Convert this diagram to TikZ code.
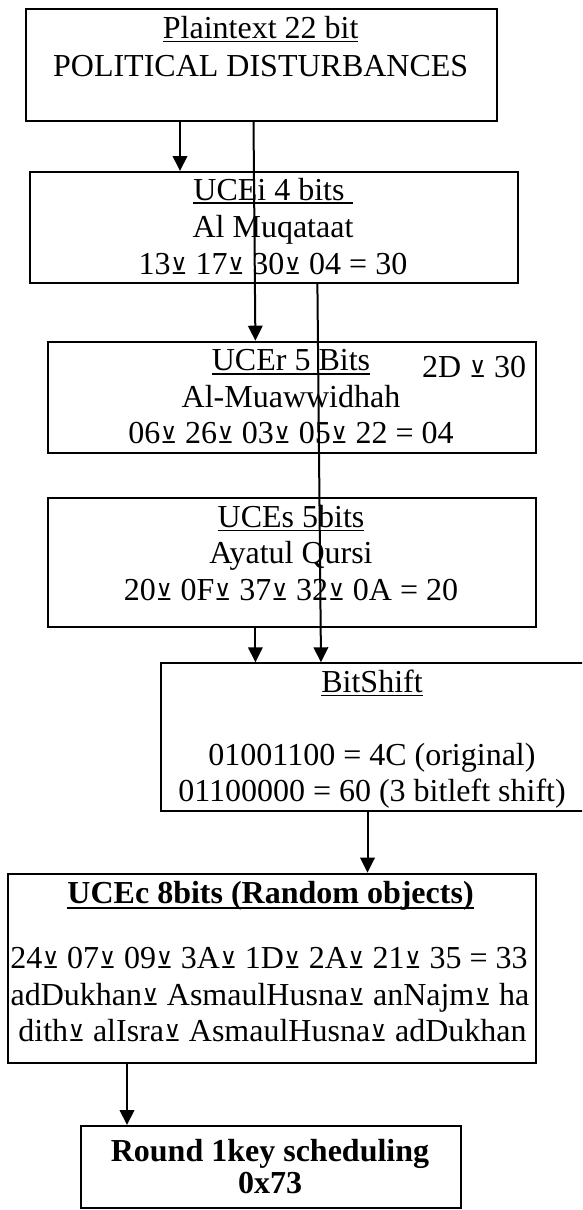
\documentclass[tikz,border=0pt]{standalone}
\usepackage{fontspec}
\setmainfont{Liberation Serif}
\newfontfamily\opfont{DejaVu Sans}
\usetikzlibrary{arrows.meta}
% exclusive-or sign
\newcommand\xo{{\opfont\fontsize{23pt}{23pt}\selectfont ⊻}}
% word-processor style underline, close to the baseline
\newcommand\undl[2][1.6pt]{\setbox0\hbox{#2}\rlap{\rule[-4pt]{\wd0}{#1}}\box0}
\newcommand\undlb[1]{\setbox0\hbox{#1}\rlap{\rule[-6pt]{\wd0}{2.4pt}}\box0}
\begin{document}
\begin{tikzpicture}[x=1pt,y=-1pt,
  blk/.style={draw, line width=2pt, inner sep=0pt, anchor=north west},
  txt/.style={inner sep=0pt, anchor=base, font=\fontsize{32pt}{38pt}\selectfont},
  arr/.style={line width=2pt, -{Triangle[length=15pt,width=14.5pt]}}]
\clip (0,0) rectangle (582,1210);
\fill[white] (0,0) rectangle (582,1210);

% blocks
\node[blk, minimum width=471.1pt, minimum height=111.7pt] (p) at (25.2,8.3) {};
\node[blk, minimum width=488pt, minimum height=110.7pt] (ucei) at (29,171) {};
\node[blk, minimum width=487.9pt, minimum height=111pt] (ucer) at (47.1,340.7) {};
\node[blk, minimum width=488pt, minimum height=129pt] (uces) at (47,496.7) {};
\node[blk, minimum width=425.4pt, minimum height=147.7pt] (bs) at (159.6,662.3) {};
\node[blk, minimum width=527.8pt, minimum height=189pt] (ucec) at (6.7,872.7) {};
\node[blk, minimum width=380.8pt, minimum height=81.7pt] (rnd) at (79.5,1125) {};

% texts
\node[txt] (p1) at (260.7,38.3) {\undl{Plaintext 22 bit}};
\node[txt] (p2) at (260.7,76) {POLITICAL DISTURBANCES};

\node[txt] (i1) at (273,200) {\undl{UCEi 4 bits }};
\node[txt] (i2) at (273,237.3) {Al Muqataat};
\node[txt] (i3) at (273,274) {13\xo{} 17\xo{} 30\xo{} 04 = 30};

\node[txt] (r1) at (291,370.7) {\undl{UCEr 5 Bits}};
\node[txt] (r2) at (291,407.3) {Al-Muawwidhah};
\node[txt] (r3) at (291,443.3) {06\xo{} 26\xo{} 03\xo{} 05\xo{} 22 = 04};
\node[txt, anchor=base west] (r4) at (422,377.7) {2D \xo{} 30};

\node[txt] (s1) at (291,527.3) {\undl{UCEs 5bits}};
\node[txt] (s2) at (291,563.3) {Ayatul Qursi};
\node[txt] (s3) at (291,600) {20\xo{} 0F\xo{} 37\xo{} 32\xo{} 0A = 20};

\node[txt] (b1) at (372,692.3) {\undl{BitShift}};
\node[txt] (b2) at (372,765) {01001100 = 4C (original)};
\node[txt] (b3) at (372,801.7) {01100000 = 60 (3 bitleft shift)};

\node[txt] (c1) at (270.6,903.3) {\bfseries\undlb{UCEc 8bits (Random objects)}};
\node[txt] (c2) at (269,968.3) {24\xo{} 07\xo{} 09\xo{} 3A\xo{} 1D\xo{} 2A\xo{} 21\xo{} 35 = 33};
\node[txt] (c3) at (270,1005) {adDukhan\xo{} AsmaulHusna\xo{} anNajm\xo{} ha};
\node[txt] (c4) at (272.5,1041) {dith\xo{} alIsra\xo{} AsmaulHusna\xo{} adDukhan};

\node[txt] (k1) at (270,1161.7) {\bfseries Round 1key scheduling};
\node[txt] (k2) at (270,1193.3) {\bfseries 0x73};

% connector columns
\coordinate (xa) at (180,0);
\coordinate (xb) at (253.5,0);
\coordinate (xc) at (255.4,0);
\coordinate (xd) at (317.4,0);
\coordinate (xe) at (321,0);
\coordinate (xf) at (367.5,0);
\coordinate (xg) at (127,0);

% connectors
\draw[arr] (p.south -| xa) -- (ucei.north -| xa);
\draw[arr] (p.south -| xb) -- (ucer.north -| xc);
\draw[arr] (ucei.south -| xd) -- (bs.north -| xe);
\draw[arr] (uces.south -| xc) -- (bs.north -| xc);
\draw[arr] (bs.south -| xf) -- (ucec.north -| xf);
\draw[arr] (ucec.south -| xg) -- (rnd.north -| xg);
\end{tikzpicture}
\end{document}
